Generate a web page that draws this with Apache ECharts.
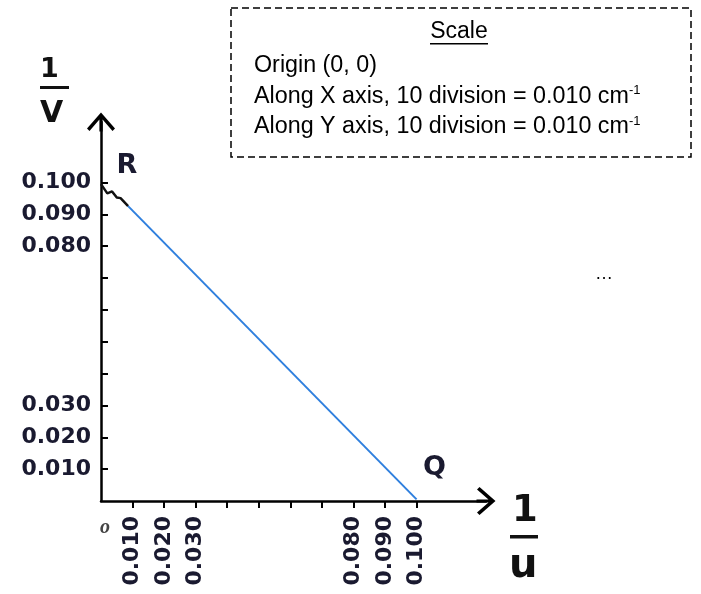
<!DOCTYPE html>
<html>
<head>
<meta charset="utf-8">
<script src="https://cdn.jsdelivr.net/npm/echarts@6/dist/echarts.min.js"></script>
<style>
  html, body { margin: 0; padding: 0; background: #fff; }
  #chart { width: 701px; height: 594px; }
</style>
</head>
<body>
<div id="chart"></div>
<script>
// Tick labels shown on each axis (1/u along X, 1/v along Y)
const xLabelValues = [0.01, 0.02, 0.03, 0.08, 0.09, 0.1];
const yLabelValues = [0.01, 0.02, 0.03, 0.08, 0.09, 0.1];
const tickValues = [0.01, 0.02, 0.03, 0.04, 0.05, 0.06, 0.07, 0.08, 0.09, 0.1];

// Hand-drawn start near R, then the straight line R -> Q
const scribbleU = [0, 0.002, 0.0035, 0.005, 0.0062, 0.0086];
const scribbleV = [0.0995, 0.0966, 0.0972, 0.0953, 0.0951, 0.0926];
const lineU = [0.0086, 0.1];
const lineV = [0.0926, 0.0005];

// Named points
const pointNames = ["R", "Q"];
const pointU = [0, 0.1];
const pointV = [0.1, 0];

// Scale box text
const scaleLines = [
  "Origin (0, 0)",
  "Along X axis, 10 division = 0.010 cm{sup|-1}",
  "Along Y axis, 10 division = 0.010 cm{sup|-1}",
];

const ink = "#1a1a30";
const labelFont = "DejaVu Sans";
// chevron arrow head with a short stem, tip pointing up
const arrowPath =
  "path://M14,0 L28,16 L25.5,18.5 L15.6,7 L15.6,19 L12.4,19 L12.4,7 L2.5,18.5 L0,16 Z";

const chart = echarts.init(document.getElementById("chart"));

const option = {
  backgroundColor: "#fff",
  animation: false,
  grid: { left: 101, right: 215, top: 122, bottom: 93 },
  xAxis: {
    type: "value",
    min: 0,
    max: 0.122,
    splitLine: { show: false },
    axisLine: {
      onZero: false,
      lineStyle: { color: "#000", width: 2.5 },
      symbol: ["none", arrowPath],
      symbolSize: [28, 19],
    },
    axisTick: {
      length: 7,
      customValues: tickValues,
      lineStyle: { color: "#000", width: 2 },
    },
    axisLabel: {
      customValues: xLabelValues,
      rotate: 90,
      margin: 15,
      color: ink,
      fontFamily: labelFont,
      fontWeight: "bold",
      fontSize: 22,
      formatter: (v) => v.toFixed(3),
    },
  },
  yAxis: {
    type: "value",
    min: 0,
    max: 0.119,
    splitLine: { show: false },
    axisLine: {
      onZero: false,
      lineStyle: { color: "#000", width: 2.5 },
      symbol: ["none", arrowPath],
      symbolSize: [28, 19],
    },
    axisTick: {
      inside: true,
      length: 7,
      customValues: tickValues,
      lineStyle: { color: "#000", width: 2 },
    },
    axisLabel: {
      customValues: yLabelValues,
      margin: 10,
      color: ink,
      fontFamily: labelFont,
      fontWeight: "bold",
      fontSize: 22,
      formatter: (v) => v.toFixed(3),
    },
  },
  series: [
    {
      type: "line",
      data: scribbleU.map((u, i) => [u, scribbleV[i]]),
      showSymbol: false,
      lineStyle: { color: "#111", width: 2.5 },
    },
    {
      type: "line",
      data: lineU.map((u, i) => [u, lineV[i]]),
      showSymbol: false,
      lineStyle: { color: "#2f7fde", width: 2 },
    },
    {
      type: "scatter",
      symbolSize: 0,
      data: pointNames.map((n, i) => ({ name: n, value: [pointU[i], pointV[i]] })),
      label: {
        show: true,
        formatter: "{b}",
        color: ink,
        textBorderWidth: 0,
        opacity: 1,
        fontFamily: labelFont,
        fontWeight: "bold",
        fontSize: 27,
        position: "inside",
      },
      labelLayout: (p) =>
        p.dataIndex === 0 ? { dx: 26, dy: -17 } : { dx: 18, dy: -33 },
    },
  ],
  graphic: [
    // axis titles
    { type: "text", left: 40, top: 56, style: { text: "1", font: "bold 27px " + labelFont, fill: "#111" } },
    { type: "rect", shape: { x: 40, y: 86, width: 29, height: 3 }, style: { fill: "#111" } },
    { type: "text", left: 40, top: 99, style: { text: "V", font: "bold 30px " + labelFont, fill: "#111" } },
    { type: "text", left: 512, top: 493, style: { text: "1", font: "bold 37px " + labelFont, fill: "#111" } },
    { type: "rect", shape: { x: 510, y: 535, width: 28, height: 3.5 }, style: { fill: "#111" } },
    { type: "text", left: 509, top: 547, style: { text: "u", font: "bold 40px " + labelFont, fill: "#111" } },
    // origin mark
    { type: "text", left: 100, top: 518, style: { text: "o", font: "italic bold 20px 'Liberation Serif'", fill: "#444" } },
    // ellipsis
    { type: "text", left: 595, top: 265, style: { text: "\u2026", font: "18px 'Liberation Sans'", fill: "#000" } },
    // scale box
    {
      type: "rect",
      shape: { x: 231, y: 8, width: 460, height: 149 },
      style: { fill: "none", stroke: "#000", lineWidth: 1.5, lineDash: [7, 4] },
    },
    { type: "text", x: 459, y: 32, style: { text: "Scale", font: "23px 'Liberation Sans'", fill: "#000", align: "center", verticalAlign: "middle" } },
    { type: "rect", shape: { x: 430, y: 43, width: 58, height: 1.5 }, style: { fill: "#000" } },
  ].concat(
    scaleLines.map((t, i) => ({
      type: "text",
      x: 254,
      y: 66 + i * 30.5,
      style: {
        text: t,
        font: "23.3px 'Liberation Sans'",
        fill: "#000",
        verticalAlign: "middle",
        rich: {
          sup: { fontSize: 13, fontFamily: "Liberation Sans", verticalAlign: "top", padding: [0, 0, 12, 0] },
        },
      },
    }))
  ),
};

chart.setOption(option);
</script>
</body>
</html>
